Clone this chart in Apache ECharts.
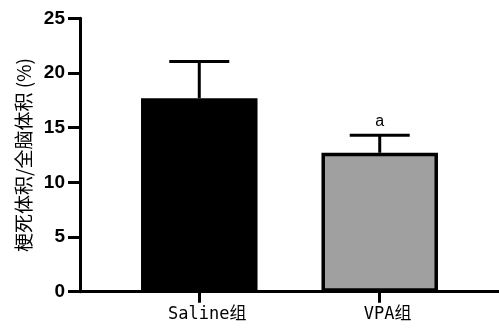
<!DOCTYPE html>
<html>
<head>
<meta charset="utf-8">
<script src="https://cdn.jsdelivr.net/npm/echarts@6/dist/echarts.min.js"></script>
<style>
html,body{margin:0;padding:0;background:#fff;}
#chart{width:499px;height:330px;}
</style>
</head>
<body>
<div id="chart"></div>
<script>
// ---- data ----
var categories = ['Saline组', 'VPA组'];
var means = [17.7, 12.7];
var errTops = [21.05, 14.3];
var sigLabels = ['', 'a'];
var yTicks = [0, 5, 10, 15, 20, 25];
var yAxisName = '梗死体积/全脑体积 (%)';

// ---- styles ----
var barFill = ['#000000', '#a0a0a0'];

var positions = categories.map(function (c, i) { return i + 1; });

var chart = echarts.init(document.getElementById('chart'), null, { renderer: 'canvas' });

var barData = means.map(function (m, i) {
  return { value: [positions[i], m], itemStyle: { color: barFill[i] } };
});
var errData = means.map(function (m, i) {
  return [positions[i], m, errTops[i], i];
});

chart.setOption({
  animation: false,
  backgroundColor: '#ffffff',
  grid: { left: 80, right: 0, top: 18.3, bottom: 38.3, containLabel: false },
  xAxis: {
    type: 'value',
    min: 0.339,
    max: 2.661,
    splitLine: { show: false },
    axisLine: { show: true, onZero: false, lineStyle: { color: '#000', width: 3 } },
    axisTick: { show: true, length: 11, lineStyle: { color: '#000', width: 3 }, customValues: positions },
    axisLabel: {
      show: true,
      customValues: positions,
      margin: 14,
      color: '#000',
      fontSize: 17,
      fontFamily: '"DejaVu Sans Mono", "Noto Sans CJK SC", monospace',
      padding: [0, 0, 0, 16],
      formatter: function (v) {
        var idx = Math.round(v) - 1;
        return categories[idx] || '';
      }
    }
  },
  yAxis: {
    type: 'value',
    min: yTicks[0],
    max: yTicks[yTicks.length - 1],
    interval: yTicks[1] - yTicks[0],
    name: yAxisName,
    nameLocation: 'middle',
    nameRotate: 90,
    nameGap: 47,
    nameTextStyle: {
      color: '#000',
      fontSize: 19,
      fontFamily: '"Noto Sans CJK SC", sans-serif',
      fontWeight: 'normal'
    },
    splitLine: { show: false },
    axisLine: { show: true, lineStyle: { color: '#000', width: 3 } },
    axisTick: { show: true, length: 12, lineStyle: { color: '#000', width: 3 } },
    axisLabel: {
      margin: 15,
      color: '#000',
      fontSize: 19,
      fontWeight: 'bold',
      fontFamily: '"Liberation Sans", Arial, sans-serif'
    }
  },
  series: [
    {
      type: 'bar',
      data: barData,
      barWidth: 116.5,
      itemStyle: { borderColor: '#000', borderWidth: 3.5 },
      z: 2
    },
    {
      type: 'custom',
      data: errData,
      z: 3,
      renderItem: function (params, api) {
        var x = api.value(0);
        var base = api.coord([x, api.value(1)]);
        var top = api.coord([x, api.value(2)]);
        var idx = api.value(3);
        var half = 30;
        var children = [
          { type: 'line', shape: { x1: base[0], y1: base[1], x2: top[0], y2: top[1] }, style: { stroke: '#000', lineWidth: 3 } },
          { type: 'line', shape: { x1: top[0] - half, y1: top[1], x2: top[0] + half, y2: top[1] }, style: { stroke: '#000', lineWidth: 3 } }
        ];
        var lbl = sigLabels[idx];
        if (lbl) {
          children.push({
            type: 'text',
            style: {
              text: lbl,
              x: top[0],
              y: top[1] - 13.6,
              align: 'center',
              verticalAlign: 'middle',
              fill: '#000',
              fontSize: 16,
              fontFamily: '"Liberation Sans", Arial, sans-serif'
            }
          });
        }
        return { type: 'group', children: children };
      }
    }
  ]
});
</script>
</body>
</html>
